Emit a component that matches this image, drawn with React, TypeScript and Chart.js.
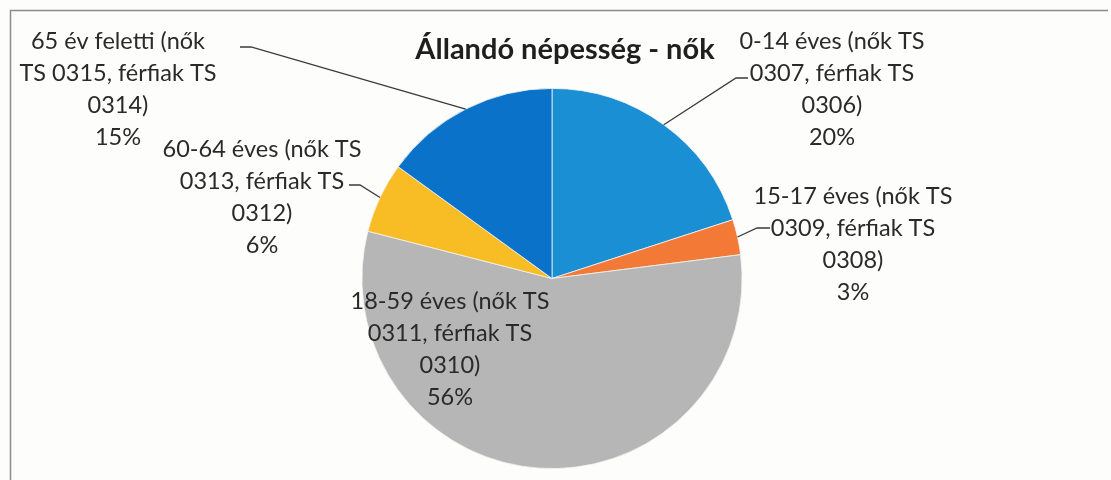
import React, { useEffect, useRef } from "react";
import { Chart, registerables } from "chart.js";

Chart.register(...registerables);

const categories = ["0-14 éves", "15-17 éves", "18-59 éves", "60-64 éves", "65 év feletti"];
const values = [20, 3, 56, 6, 15];
const colors = ["#1A8FD3", "#F27A36", "#B6B6B6", "#F8BC25", "#0B72C9"];
const titleText = "Állandó népesség - nők";
const labelLines: string[][] = [
  ["0-14 éves (nők TS", "0307, férfiak TS", "0306)", "20%"],
  ["15-17 éves (nők TS", "0309, férfiak TS", "0308)", "3%"],
  ["18-59 éves (nők TS", "0311, férfiak TS", "0310)", "56%"],
  ["60-64 éves (nők TS", "0313, férfiak TS", "0312)", "6%"],
  ["65 év feletti (nők", "TS 0315, férfiak TS", "0314)", "15%"],
];

// label layout: center x, first line center y
const labelPos = [
  { x: 832, y: 41 },
  { x: 853, y: 196 },
  { x: 450, y: 301 },
  { x: 262, y: 149 },
  { x: 118, y: 41 },
];
// leader line anchor near the label: [start x, y, elbow x]
const leaderAnchor: (number[] | null)[] = [
  [748, 78, 736],
  [770, 228, 757],
  null,
  [349, 185, 360],
  [240, 47, 251],
];

const FONT = "Lato, 'Liberation Sans', sans-serif";

export default function App() {
  const ref = useRef<HTMLCanvasElement | null>(null);
  useEffect(() => {
    const canvas = ref.current!;
    const plugin = {
      id: "decor",
      beforeDraw(chart: any) {
        const ctx = chart.ctx;
        ctx.save();
        ctx.fillStyle = "#fdfdfc";
        ctx.fillRect(0, 0, chart.width, chart.height);
        ctx.restore();
      },
      afterDraw(chart: any) {
        const ctx = chart.ctx;
        ctx.save();
        // frame
        ctx.strokeStyle = "#8c8c8c";
        ctx.lineWidth = 1.5;
        ctx.beginPath();
        ctx.moveTo(10.5, 480);
        ctx.lineTo(10.5, 10.5);
        ctx.lineTo(1108, 10.5);
        ctx.stroke();
        // title
        ctx.fillStyle = "#1f1f1f";
        ctx.font = "bold 29px " + FONT;
        ctx.textAlign = "center";
        ctx.textBaseline = "middle";
        ctx.fillText(titleText, 565, 50);
        // leaders
        const meta = chart.getDatasetMeta(0);
        ctx.strokeStyle = "#3a3a3a";
        ctx.lineWidth = 1.3;
        meta.data.forEach((arc: any, i: number) => {
          const a = leaderAnchor[i];
          if (!a) return;
          const mid = (arc.startAngle + arc.endAngle) / 2;
          const ex = arc.x + Math.cos(mid) * arc.outerRadius;
          const ey = arc.y + Math.sin(mid) * arc.outerRadius;
          ctx.beginPath();
          ctx.moveTo(a[0], a[1]);
          ctx.lineTo(a[2], a[1]);
          ctx.lineTo(ex, ey);
          ctx.stroke();
        });
        // labels
        ctx.fillStyle = "#2a2a2a";
        ctx.font = "23.5px " + FONT;
        labelLines.forEach((lines, i) => {
          const p = labelPos[i];
          lines.forEach((t, j) => ctx.fillText(t, p.x, p.y + j * 32));
        });
        ctx.restore();
      },
    };
    const chart = new Chart(canvas, {
      type: "pie",
      data: {
        labels: categories,
        datasets: [
          {
            data: values,
            backgroundColor: colors,
            borderColor: "#f4f4f4",
            borderWidth: 0.8,
          },
        ],
      },
      options: {
        responsive: false,
        animation: false,
        layout: { padding: { top: 88, bottom: 11, left: 361, right: 368 } },
        plugins: { legend: { display: false }, tooltip: { enabled: false }, title: { display: false } },
      },
      plugins: [plugin],
    });
    return () => chart.destroy();
  }, []);
  return (
    <div style={{ position: "absolute", left: 0, top: 0, width: 1111, height: 480 }}>
      <canvas ref={ref} width={1111} height={480} />
    </div>
  );
}
